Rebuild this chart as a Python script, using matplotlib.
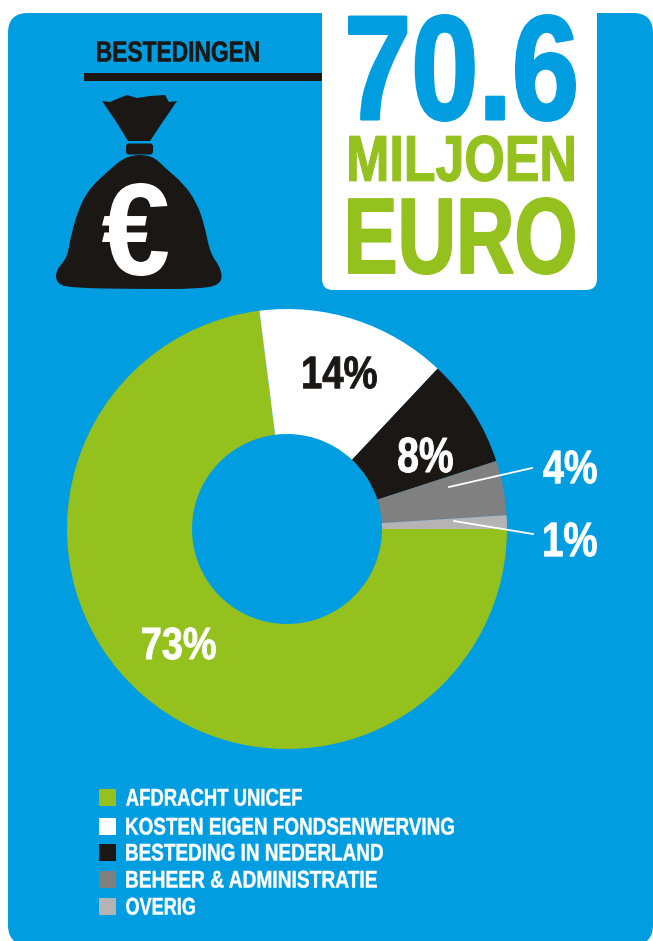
import matplotlib
matplotlib.use('Agg')
import matplotlib.pyplot as plt
from matplotlib.font_manager import FontProperties
from matplotlib.patches import FancyBboxPatch, PathPatch, Rectangle
from matplotlib.patheffects import AbstractPathEffect
from matplotlib.path import Path
from matplotlib.textpath import TextPath
from matplotlib.transforms import Affine2D

BLUE = '#009ee0'
GREEN = '#95c11f'
BLACK = '#1a1714'
GREY = '#808080'
LIGHT = '#b5b3b3'

categories = ['AFDRACHT UNICEF', 'KOSTEN EIGEN FONDSENWERVING', 'BESTEDING IN NEDERLAND',
              'BEHEER & ADMINISTRATIE', 'OVERIG']
values = [73, 14, 8, 4, 1]
colors = [GREEN, 'white', BLACK, GREY, LIGHT]

DPI = 100
plt.rcParams['font.family'] = ['Liberation Sans', 'DejaVu Sans']
plt.rcParams['font.weight'] = 'bold'
prop = FontProperties(family='Liberation Sans', weight='bold')

fig = plt.figure(figsize=(6.53, 9.41), dpi=DPI)
ax = fig.add_axes([0, 0, 1, 1])


class Squeeze(AbstractPathEffect):
    # no condensed font installed, so narrow the glyphs when they are drawn
    def __init__(self, sx, grow):
        super().__init__()
        self.sx = sx
        self.grow = grow

    def draw_path(self, renderer, gc, tpath, affine, rgbFace=None):
        gc0 = renderer.new_gc()
        gc0.copy_properties(gc)
        gc0.set_foreground(rgbFace)
        gc0.set_linewidth(self.grow * 72 / DPI)
        renderer.draw_path(gc0, tpath, Affine2D().scale(self.sx, 1) + affine, rgbFace)
        gc0.restore()


def fit_text(s, x0, x1, top, bottom, color, z=6, heavy=0.025):
    # place s so its ink fills the pixel box x0..x1, top..bottom
    grow = heavy * (bottom - top)
    x0, x1, top, bottom = x0 + grow / 2, x1 - grow / 2, top + grow / 2, bottom - grow / 2
    box = TextPath((0, 0), s, size=100, prop=prop).get_extents()
    size = 100 * (bottom - top) / box.height * 72 / DPI
    k = size / 100 * DPI / 72
    sx = (x1 - x0) / (box.width * k)
    base = bottom + box.y0 * k
    ax.text(x0 - box.x0 * k * sx, base, s, fontsize=size, color=color, ha='left', va='baseline',
            path_effects=[Squeeze(sx, grow)], zorder=z)


def rounded(x0, y0, x1, y1, r, color, z):
    ax.add_patch(FancyBboxPatch((x0 + r, y0 + r), x1 - x0 - 2 * r, y1 - y0 - 2 * r,
                                boxstyle='round,pad=%d,rounding_size=%d' % (r, r),
                                fc=color, ec='none', zorder=z))


def smooth_closed(points):
    # quadratic spline through the midpoints, points act as control points
    mids = [((a[0] + b[0]) / 2, (a[1] + b[1]) / 2) for a, b in zip(points, points[1:] + points[:1])]
    verts = [mids[-1]]
    codes = [Path.MOVETO]
    for p, m in zip(points, mids):
        verts += [p, m]
        codes += [Path.CURVE3, Path.CURVE3]
    return Path(verts, codes)


rounded(8, 13, 653, 945, 20, BLUE, 1)
rounded(322, -20, 597, 290, 11, 'white', 2)

# y axis runs downwards here, so counterclock=True is clockwise on screen
wedges, _ = ax.pie(values, colors=colors, center=(287, 529), radius=220, startangle=0,
                   counterclock=True, frame=False,
                   wedgeprops=dict(width=125, linewidth=0))
for w in wedges:
    w.set_zorder(3)

ax.set_xlim(0, 653)
ax.set_ylim(941, 0)
ax.set_aspect('auto')
ax.axis('off')

# header
fit_text('BESTEDINGEN', 97, 259, 41, 62, BLACK)
ax.add_patch(Rectangle((84, 73), 238, 8, fc=BLACK, ec='none', zorder=5))
fit_text('70.6', 348, 576, 14, 122, BLUE)
fit_text('MILJOEN', 349, 574, 135, 182, GREEN)
fit_text('EURO', 348, 575, 197, 275, GREEN)

# money bag
bag_top = [(102, 101), (110, 102), (117, 99), (127, 95), (137, 98), (150, 96), (165, 95), (169, 102),
           (177, 101), (162, 123), (150, 141), (128, 141), (117, 123)]
ax.fill(*zip(*bag_top), color=BLACK, lw=0, zorder=4)
ax.add_patch(FancyBboxPatch((129, 146.5), 21, 5, boxstyle='round,pad=3,rounding_size=3',
                            fc=BLACK, ec='none', zorder=4))
bag_body = [(127, 155), (152, 155), (165, 168), (183, 183), (197, 203), (205, 227), (210, 253), (222, 270),
            (221, 285), (197, 289), (140, 289), (70, 288), (56, 283), (56, 270), (67, 258), (70, 240),
            (77, 213), (88, 190), (107, 172)]
ax.add_patch(PathPatch(smooth_closed(bag_body), fc=BLACK, ec='none', zorder=4))
fit_text('€', 102, 168, 183, 276, 'white', heavy=0)

# slice labels
fit_text('14%', 303, 377, 356, 389, BLACK)
fit_text('8%', 398, 453, 437, 473, 'white')
fit_text('4%', 543, 597, 450, 484, 'white')
fit_text('1%', 544, 597, 522, 557, 'white')
fit_text('73%', 142, 216, 627, 660, 'white')
ax.plot([449, 532], [487, 468], color='white', lw=1.3, zorder=6)
ax.plot([454, 533], [521, 534], color='white', lw=1.3, zorder=6)

# legend
legend_top = [789, 818, 844, 871, 898]
legend_right = [302, 454, 383, 377, 195]
for name, col, y, right in zip(categories, colors, legend_top, legend_right):
    ax.add_patch(Rectangle((99, y), 16.5, 17, fc=col, ec='none', zorder=5))
    fit_text(name, 126, right, y - 0.5, y + 17, 'white', z=5)

fig.savefig('out.png', dpi=DPI, facecolor='white')
